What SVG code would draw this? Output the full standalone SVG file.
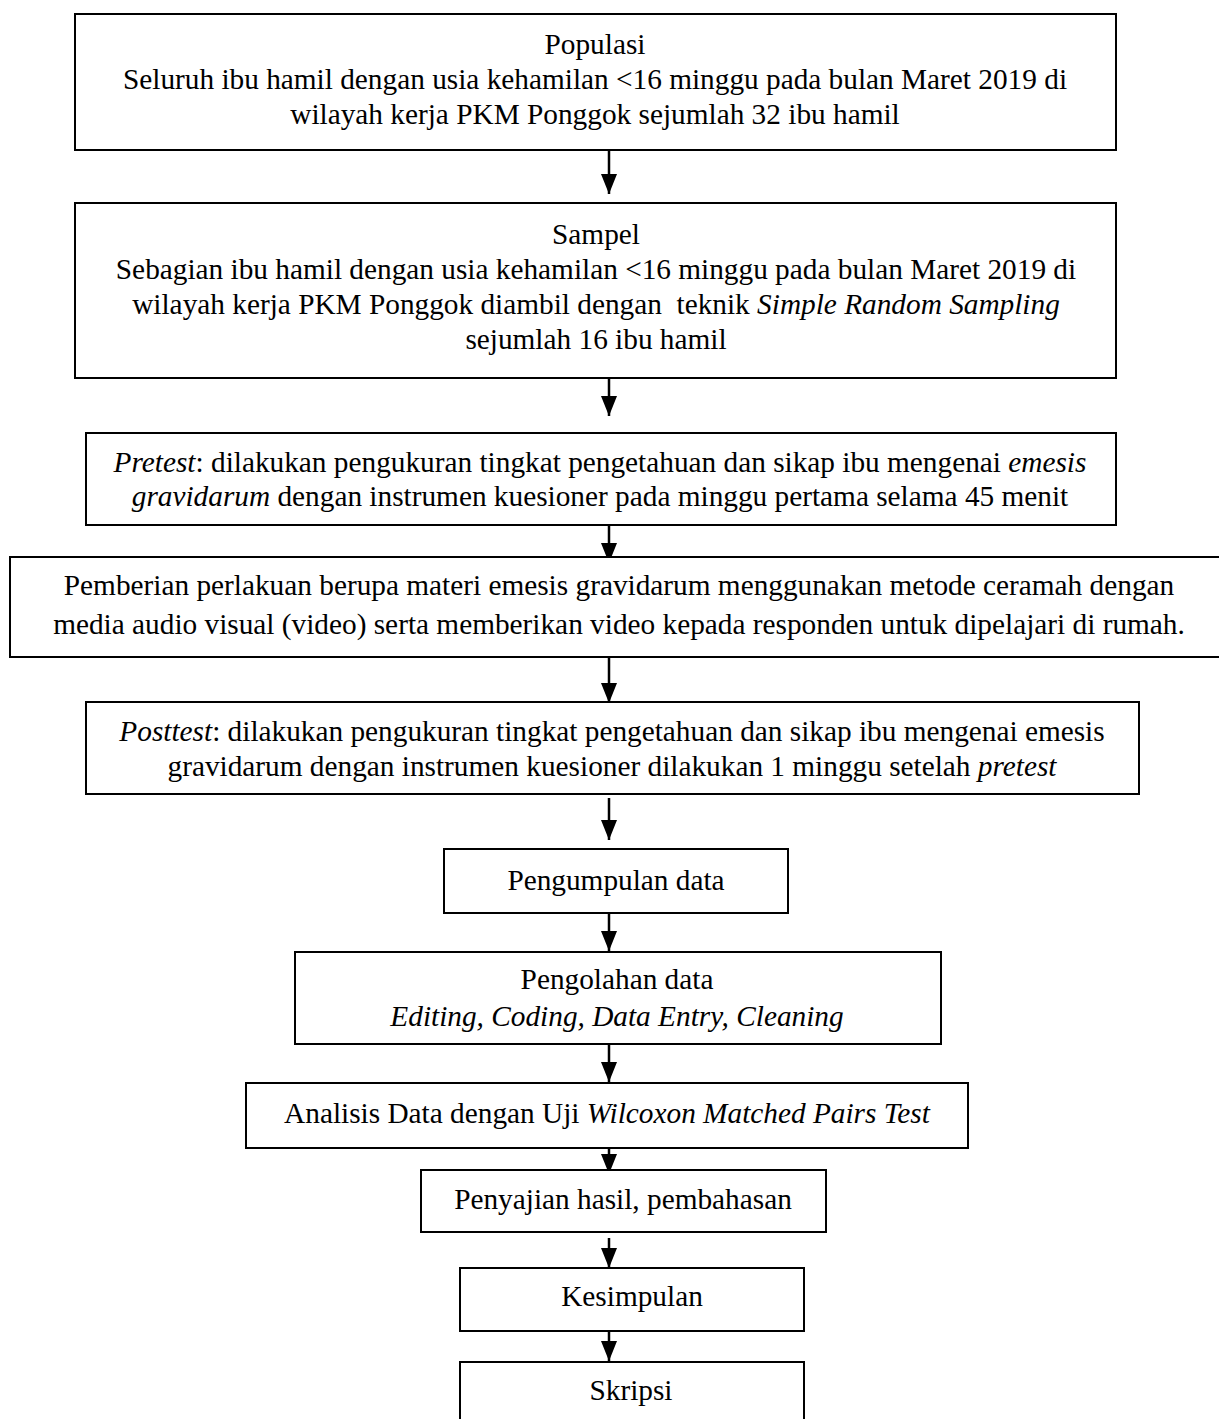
<svg xmlns="http://www.w3.org/2000/svg" width="1219" height="1419" viewBox="0 0 1219 1419">
<style>
  .box { fill: #ffffff; stroke: #000000; stroke-width: 2; }
  .t { font-family: "Liberation Serif", "Times New Roman", serif; font-size: 29.3px; fill: #000000; text-anchor: middle; }
  .i { font-style: italic; }
  .conn { stroke: #000000; stroke-width: 2.5; fill: none; }
</style>
<defs>
  <marker id="arrow" viewBox="0 0 20 16" refX="20" refY="8" markerWidth="20" markerHeight="16" markerUnits="userSpaceOnUse" orient="auto">
    <path d="M0,0 L20,8 L0,16 Z" fill="#000000"/>
  </marker>
</defs>
<rect width="1219" height="1419" fill="#ffffff"/>

<g id="connectors">
  <line class="conn" x1="609" y1="150" x2="609" y2="194" marker-end="url(#arrow)"/>
  <line class="conn" x1="609" y1="378" x2="609" y2="416" marker-end="url(#arrow)"/>
  <line class="conn" x1="609" y1="520" x2="609" y2="563" marker-end="url(#arrow)"/>
  <line class="conn" x1="609" y1="657" x2="609" y2="703" marker-end="url(#arrow)"/>
  <line class="conn" x1="609" y1="798" x2="609" y2="840" marker-end="url(#arrow)"/>
  <line class="conn" x1="609" y1="907" x2="609" y2="951" marker-end="url(#arrow)"/>
  <line class="conn" x1="609" y1="1038" x2="609" y2="1082" marker-end="url(#arrow)"/>
  <line class="conn" x1="609" y1="1146" x2="609" y2="1174" marker-end="url(#arrow)"/>
  <line class="conn" x1="609" y1="1238" x2="609" y2="1268" marker-end="url(#arrow)"/>
  <line class="conn" x1="609" y1="1331" x2="609" y2="1361" marker-end="url(#arrow)"/>
</g>

<g id="populasi">
  <rect class="box" x="75" y="14" width="1041" height="136"/>
  <text class="t" x="595" y="54">Populasi</text>
  <text class="t" x="595" y="89">Seluruh ibu hamil dengan usia kehamilan &lt;16 minggu pada bulan Maret 2019 di</text>
  <text class="t" x="595" y="124">wilayah kerja PKM Ponggok sejumlah 32 ibu hamil</text>
</g>

<g id="sampel">
  <rect class="box" x="75" y="203" width="1041" height="175"/>
  <text class="t" x="596" y="244">Sampel</text>
  <text class="t" x="596" y="279">Sebagian ibu hamil dengan usia kehamilan &lt;16 minggu pada bulan Maret 2019 di</text>
  <text class="t" x="596" y="314" xml:space="preserve">wilayah kerja PKM Ponggok diambil dengan  teknik <tspan class="i">Simple Random Sampling</tspan></text>
  <text class="t" x="596" y="349">sejumlah 16 ibu hamil</text>
</g>

<g id="pretest">
  <rect class="box" x="86" y="433" width="1030" height="92"/>
  <text class="t" x="600" y="472"><tspan class="i">Pretest</tspan>: dilakukan pengukuran tingkat pengetahuan dan sikap ibu mengenai <tspan class="i">emesis</tspan></text>
  <text class="t" x="600" y="506"><tspan class="i">gravidarum</tspan> dengan instrumen kuesioner pada minggu pertama selama 45 menit</text>
</g>

<g id="perlakuan">
  <rect class="box" x="10" y="557" width="1230" height="100"/>
  <text class="t" x="619" y="595">Pemberian perlakuan berupa materi emesis gravidarum menggunakan metode ceramah dengan</text>
  <text class="t" x="619" y="634">media audio visual (video) serta memberikan video kepada responden untuk dipelajari di rumah.</text>
</g>

<g id="posttest">
  <rect class="box" x="86" y="702" width="1053" height="92"/>
  <text class="t" x="612" y="741"><tspan class="i">Posttest</tspan>: dilakukan pengukuran tingkat pengetahuan dan sikap ibu mengenai emesis</text>
  <text class="t" x="612" y="776">gravidarum dengan instrumen kuesioner dilakukan 1 minggu setelah <tspan class="i">pretest</tspan></text>
</g>

<g id="pengumpulan">
  <rect class="box" x="444" y="849" width="344" height="64"/>
  <text class="t" x="616" y="890">Pengumpulan data</text>
</g>

<g id="pengolahan">
  <rect class="box" x="295" y="952" width="646" height="92"/>
  <text class="t" x="617" y="989">Pengolahan data</text>
  <text class="t i" x="617" y="1026">Editing, Coding, Data Entry, Cleaning</text>
</g>

<g id="analisis">
  <rect class="box" x="246" y="1083" width="722" height="65"/>
  <text class="t" x="607" y="1123">Analisis Data dengan Uji <tspan class="i">Wilcoxon Matched Pairs Test</tspan></text>
</g>

<g id="penyajian">
  <rect class="box" x="421" y="1170" width="405" height="62"/>
  <text class="t" x="623" y="1209">Penyajian hasil, pembahasan</text>
</g>

<g id="kesimpulan">
  <rect class="box" x="460" y="1268" width="344" height="63"/>
  <text class="t" x="632" y="1306">Kesimpulan</text>
</g>

<g id="skripsi">
  <rect class="box" x="460" y="1362" width="344" height="70"/>
  <text class="t" x="631" y="1400">Skripsi</text>
</g>
</svg>
